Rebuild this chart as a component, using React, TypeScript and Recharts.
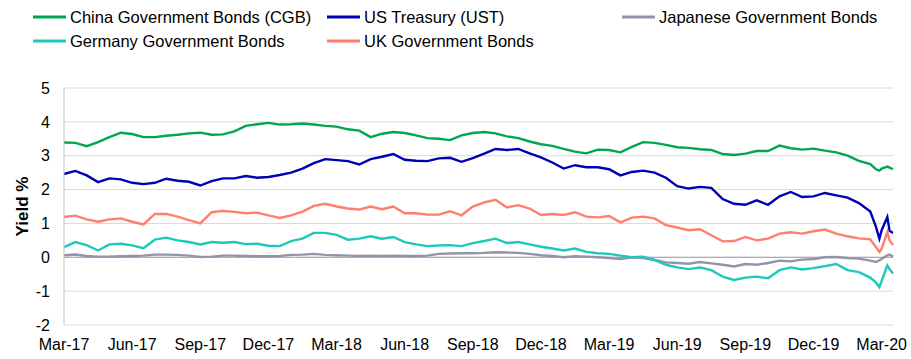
import React from 'react';
import {
  LineChart,
  Line,
  XAxis,
  YAxis,
  CartesianGrid,
  Legend,
  ReferenceLine,
} from 'recharts';

// months since Mar-17 (half-month steps, denser at the end)
const months = [
  0, 0.5, 1, 1.5, 2, 2.5, 3, 3.5, 4, 4.5, 5, 5.5, 6, 6.5, 7, 7.5, 8, 8.5, 9, 9.5,
  10, 10.5, 11, 11.5, 12, 12.5, 13, 13.5, 14, 14.5, 15, 15.5, 16, 16.5, 17, 17.5,
  18, 18.5, 19, 19.5, 20, 20.5, 21, 21.5, 22, 22.5, 23, 23.5, 24, 24.5, 25, 25.5,
  26, 26.5, 27, 27.5, 28, 28.5, 29, 29.5, 30, 30.5, 31, 31.5, 32, 32.5, 33, 33.5,
  34, 34.5, 35, 35.5, 35.75, 35.9, 36, 36.25, 36.35, 36.5,
];

const cgb = [
  3.39, 3.38, 3.28, 3.4, 3.55, 3.68, 3.64, 3.55, 3.55, 3.59, 3.62, 3.66, 3.68, 3.62, 3.63, 3.72, 3.88, 3.93, 3.97, 3.92,
  3.93, 3.95, 3.92, 3.88, 3.86, 3.78, 3.74, 3.55, 3.65, 3.7, 3.67, 3.6, 3.52, 3.5, 3.46, 3.6,
  3.67, 3.7, 3.66, 3.57, 3.52, 3.42, 3.34, 3.29, 3.2, 3.12, 3.07, 3.18, 3.17, 3.1, 3.26, 3.4,
  3.38, 3.32, 3.25, 3.23, 3.19, 3.17, 3.05, 3.02, 3.06, 3.14, 3.14, 3.3, 3.22, 3.18, 3.21, 3.15,
  3.1, 3.0, 2.85, 2.75, 2.6, 2.56, 2.62, 2.68, 2.65, 2.6,
];

const ust = [
  2.46, 2.55, 2.42, 2.22, 2.33, 2.3, 2.2, 2.16, 2.2, 2.32, 2.26, 2.23, 2.12, 2.25, 2.33, 2.33, 2.4, 2.35, 2.37, 2.43,
  2.5, 2.62, 2.78, 2.9, 2.87, 2.84, 2.74, 2.9, 2.97, 3.05, 2.88, 2.85, 2.84, 2.92, 2.94, 2.82,
  2.93, 3.06, 3.2, 3.17, 3.2, 3.07, 2.95, 2.8, 2.62, 2.72, 2.66, 2.66, 2.6, 2.42, 2.52, 2.56,
  2.5, 2.35, 2.1, 2.03, 2.08, 2.05, 1.72, 1.58, 1.55, 1.68, 1.55, 1.8, 1.93, 1.78, 1.8, 1.9,
  1.83, 1.76, 1.6, 1.35, 0.9, 0.55, 0.8, 1.19, 0.78, 0.72,
];

const jgb = [
  0.06, 0.08, 0.04, 0.02, 0.02, 0.03, 0.04, 0.05, 0.08, 0.08, 0.07, 0.05, 0.01, 0.02, 0.05, 0.05, 0.04, 0.03, 0.03, 0.04,
  0.07, 0.08, 0.1, 0.07, 0.06, 0.05, 0.04, 0.05, 0.04, 0.05, 0.04, 0.04, 0.05, 0.1, 0.11, 0.12,
  0.12, 0.13, 0.15, 0.14, 0.13, 0.1, 0.06, 0.04, 0.0, 0.03, 0.02, 0.0, -0.02, -0.05, 0.0, -0.02,
  -0.08, -0.15, -0.17, -0.19, -0.14, -0.18, -0.22, -0.27, -0.2, -0.22, -0.17, -0.1, -0.12, -0.07, -0.05, 0.0,
  0.01, -0.02, -0.04, -0.1, -0.14, -0.09, -0.05, 0.06, 0.08, 0.02,
];

const bund = [
  0.3, 0.45, 0.36, 0.2, 0.38, 0.4, 0.35, 0.27, 0.52, 0.58, 0.5, 0.45, 0.38, 0.45, 0.43, 0.45, 0.39, 0.4, 0.34, 0.33,
  0.48, 0.55, 0.72, 0.72, 0.66, 0.52, 0.55, 0.62, 0.55, 0.6, 0.45, 0.38, 0.33, 0.35, 0.36, 0.33,
  0.42, 0.48, 0.55, 0.42, 0.45, 0.38, 0.31, 0.26, 0.2, 0.26, 0.16, 0.12, 0.1, 0.05, 0.0, 0.02,
  -0.08, -0.22, -0.3, -0.35, -0.3, -0.38, -0.57, -0.67, -0.6, -0.57, -0.62, -0.38, -0.3, -0.36, -0.32, -0.26,
  -0.2, -0.38, -0.44, -0.6, -0.75, -0.88, -0.7, -0.24, -0.35, -0.48,
];

const gilt = [
  1.19, 1.23, 1.12, 1.05, 1.12, 1.15, 1.05, 0.97, 1.28, 1.28, 1.2, 1.1, 1.0, 1.33, 1.37, 1.34, 1.3, 1.32, 1.24, 1.16,
  1.24, 1.35, 1.52, 1.58, 1.5, 1.44, 1.41, 1.5, 1.42, 1.5, 1.3, 1.3, 1.26, 1.26, 1.36, 1.24,
  1.5, 1.62, 1.7, 1.47, 1.54, 1.44, 1.25, 1.28, 1.25, 1.33, 1.2, 1.18, 1.22, 1.03, 1.17, 1.2,
  1.15, 0.95, 0.88, 0.8, 0.83, 0.65, 0.47, 0.48, 0.6, 0.5, 0.55, 0.7, 0.74, 0.7, 0.77, 0.82,
  0.7, 0.62, 0.56, 0.53, 0.3, 0.16, 0.25, 0.75, 0.5, 0.36,
];

const tickMonths = [0, 3, 6, 9, 12, 15, 18, 21, 24, 27, 30, 33, 36];
const tickLabels = [
  'Mar-17', 'Jun-17', 'Sep-17', 'Dec-17', 'Mar-18', 'Jun-18', 'Sep-18',
  'Dec-18', 'Mar-19', 'Jun-19', 'Sep-19', 'Dec-19', 'Mar-20',
];
const yTicks = [-2, -1, 0, 1, 2, 3, 4, 5];

const SERIES = [
  { key: 'cgb', name: 'China Government Bonds (CGB)', color: '#00a651' },
  { key: 'ust', name: 'US Treasury (UST)', color: '#0000b4' },
  { key: 'jgb', name: 'Japanese Government Bonds', color: '#9494a8' },
  { key: 'bund', name: 'Germany Government Bonds', color: '#1ec8ba' },
  { key: 'gilt', name: 'UK Government Bonds', color: '#ff7e6e' },
];

const data = months.map((m, i) => ({
  m,
  cgb: cgb[i],
  ust: ust[i],
  jgb: jgb[i],
  bund: bund[i],
  gilt: gilt[i],
}));

const FONT = '"Liberation Sans", Arial, sans-serif';
const LEGEND_COLS = [33, 327, 622];
const LEGEND_ROWS = [17, 41];

function LegendContent({ payload }: any) {
  const items = payload || [];
  return (
    <svg width={911} height={60} style={{ display: 'block' }}>
      {items.map((item: any) => {
        // keep Excel's order: series order, three per row
        const i = SERIES.findIndex((s) => s.name === item.value);
        const x = LEGEND_COLS[i % 3];
        const y = LEGEND_ROWS[Math.floor(i / 3)];
        return (
          <g key={item.value}>
            <line x1={x} x2={x + 33} y1={y} y2={y} stroke={item.color} strokeWidth={3} />
            <text
              x={x + 37}
              y={y}
              dy="0.36em"
              fontSize={16.5}
              fontFamily={FONT}
              fill="#000"
            >
              {item.value}
            </text>
          </g>
        );
      })}
    </svg>
  );
}

function YLabel({ viewBox }: any) {
  const cy = viewBox.y + viewBox.height / 2;
  return (
    <text
      x={22}
      y={cy}
      transform={`rotate(-90, 22, ${cy})`}
      textAnchor="middle"
      dominantBaseline="central"
      fontSize={17}
      fontWeight="bold"
      fontFamily={FONT}
      fill="#000"
    >
      Yield %
    </text>
  );
}

export default function App() {
  return (
    <div style={{ position: 'absolute', left: 0, top: 0, background: '#fff' }}>
      <LineChart
        width={911}
        height={359}
        data={data}
        margin={{ top: 88, right: 18, bottom: 0, left: 0 }}
      >
        <CartesianGrid vertical={false} stroke="#d9d9d9" />
        <XAxis
          dataKey="m"
          type="number"
          domain={[0, 36.5]}
          ticks={tickMonths}
          tickFormatter={(v) => tickLabels[tickMonths.indexOf(v)]}
          axisLine={false}
          tickLine={false}
          tickMargin={8}
          height={34}
          interval={0}
          tick={{ fill: '#000', fontSize: 16, fontFamily: FONT }}
        />
        <YAxis
          domain={[-2, 5]}
          ticks={yTicks}
          width={64}
          axisLine={{ stroke: '#bfbfbf' }}
          tickLine={false}
          tickMargin={8}
          tick={{ fill: '#000', fontSize: 16, fontFamily: FONT }}
          label={<YLabel />}
        />
        <ReferenceLine y={0} stroke="#a0a0a0" strokeWidth={1} />
        <Legend
          verticalAlign="middle"
          layout="horizontal"
          width={911}
          height={60}
          wrapperStyle={{ top: 0, left: 0 }}
          content={<LegendContent />}
        />
        {SERIES.map((s) => (
          <Line
            key={s.key}
            type="linear"
            dataKey={s.key}
            name={s.name}
            stroke={s.color}
            strokeWidth={2.4}
            dot={false}
            isAnimationActive={false}
          />
        ))}
      </LineChart>
    </div>
  );
}
